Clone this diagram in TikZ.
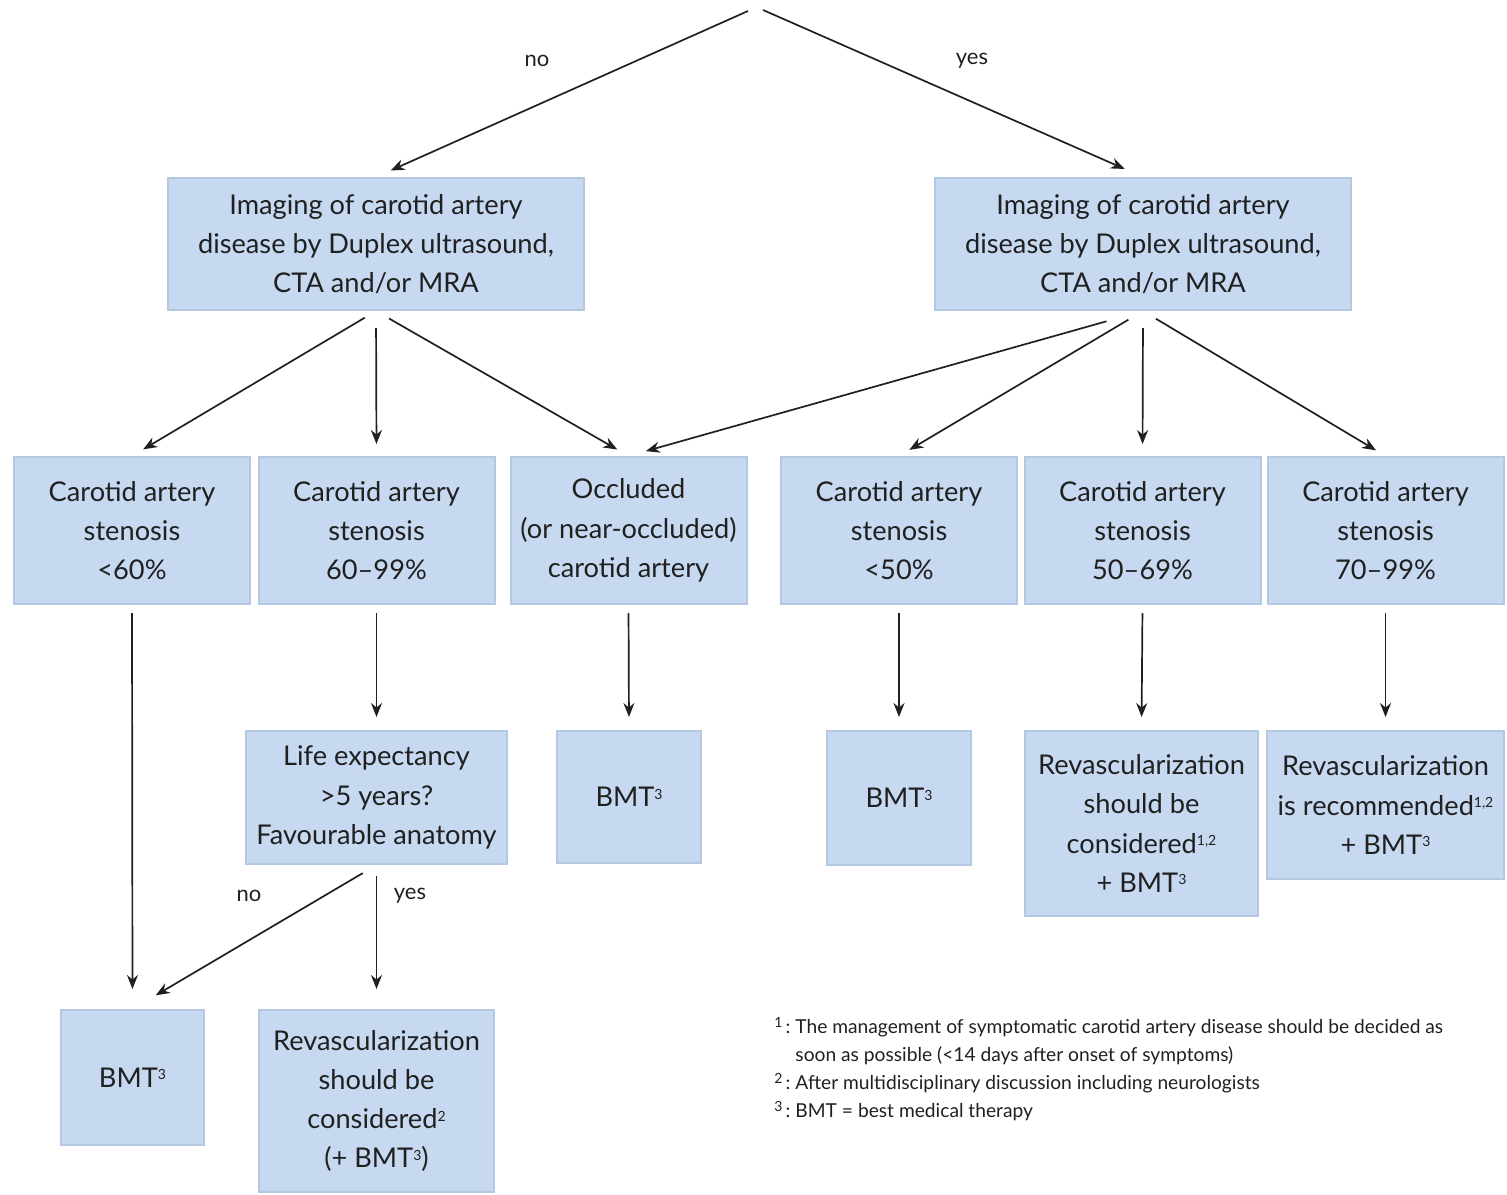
\documentclass[tikz,border=0pt]{standalone}
\usepackage{fontspec}
\setmainfont{Lato}
\usepackage{xcolor}
\usepackage{tikz}
\usetikzlibrary{arrows.meta,positioning}
\definecolor{boxfill}{RGB}{198,217,240}
\definecolor{boxline}{RGB}{180,200,226}
\definecolor{ink}{RGB}{32,32,32}
\newcommand{\fn}[1]{\raisebox{0.55ex}{\scriptsize #1}}

\begin{document}
\begin{tikzpicture}[
      x=0.5pt, y=-0.5pt,
      box/.style={draw=boxline, line width=1pt, fill=boxfill, align=center,
        inner sep=0pt, text=ink, font=\fontsize{13.6}{19.6}\selectfont},
      arr/.style={draw=ink, line width=0.85pt, -{Stealth[length=7pt,width=5.5pt]},
        shorten <=7.5pt, shorten >=6.5pt},
      lbl/.style={text=ink, font=\fontsize{11}{13}\selectfont},
      >=Stealth]
    \useasboundingbox (0,0) rectangle (1507,1194);
    % top split
    \coordinate (rootL) at (748,11);
    \coordinate (rootR) at (763,10);
    \node[box, minimum width=208pt, minimum height=66pt] (imgL) at (376,244)
      {Imaging of carotid artery\\disease by Duplex ultrasound,\\CTA and/or MRA};
    \node[box, minimum width=208pt, minimum height=66pt] (imgR) at (1143,244)
      {Imaging of carotid artery\\disease by Duplex ultrasound,\\CTA and/or MRA};
    \draw[arr, shorten <=0pt, shorten >=8pt] (rootL) -- (imgL.north);
    \draw[arr, shorten <=0pt, shorten >=10pt] (rootR) -- (imgR.north);
    \node[lbl] (noTop) at (537,61) {no};
    \node[lbl] (yesTop) at (972,61) {yes};
    % stenosis grades
    \foreach \n/\x/\t in {sA/132/{Carotid artery\\stenosis\\<60\%},
                          sB/376.5/{Carotid artery\\stenosis\\60--99\%},
                          sC/628.5/{Occluded\\(or near-occluded)\\carotid artery},
                          sD/899/{Carotid artery\\stenosis\\<50\%},
                          sE/1142.5/{Carotid artery\\stenosis\\50--69\%},
                          sF/1385.5/{Carotid artery\\stenosis\\70--99\%}}
      \node[box, minimum width=118pt, minimum height=73.5pt] (\n) at (\x,530.5) {\t};
    \draw[arr, shorten <=6.5pt] (imgL.south) -- (sA.north);
    \draw[arr, shorten <=8.5pt, shorten >=6pt] (imgL.south) -- (sB.north);
    \draw[arr] (imgL.south) -- (sC.north);
    \draw[arr, shorten <=19pt, shorten >=9pt] (imgR.south) -- (sC.north);
    \draw[arr, shorten <=8.5pt, shorten >=6pt] (imgR.south) -- (sD.north);
    \draw[arr, shorten <=8.5pt, shorten >=6pt] (imgR.south) -- (sE.north);
    \draw[arr, shorten >=5.5pt] (imgR.south) -- (sF.north);
    % outcomes
    \node[box, minimum width=130.5pt, minimum height=66.5pt] (life) at (376.5,797.5)
      {Life expectancy\\>5 years?\\Favourable anatomy};
    \node[box, minimum width=72pt, minimum height=66pt] (bmtC) at (629,797)
      {BMT\fn{3}};
    \node[box, minimum width=72pt, minimum height=67pt] (bmtD) at (899,798)
      {BMT\fn{3}};
    \node[box, minimum width=116.5pt, minimum height=92.5pt] (revE) at (1141.5,823.5)
      {Revascularization\\should be\\considered\fn{1,2}\\+ BMT\fn{3}};
    \node[box, minimum width=118.5pt, minimum height=74pt] (revF) at (1385.5,805)
      {Revascularization\\is recommended\fn{1,2}\\+ BMT\fn{3}};
    \node[box, minimum width=71.5pt, minimum height=67.5pt] (bmtA) at (132.5,1077.5)
      {BMT\fn{3}};
    \node[box, minimum width=117.5pt, minimum height=91pt] (revB) at (376.5,1101)
      {Revascularization\\should be\\considered\fn{2}\\(+ BMT\fn{3})};
    \draw[arr, shorten <=4pt, shorten >=10pt] (sA.south) -- (bmtA.north);
    \draw[arr, shorten <=4pt] (sB.south) -- (life.north);
    \draw[arr, shorten <=4pt] (sC.south) -- (bmtC.north);
    \draw[arr, shorten <=4pt] (sD.south) -- (bmtD.north);
    \draw[arr, shorten <=4pt] (sE.south) -- (revE.north);
    \draw[arr, shorten <=4pt] (sF.south) -- (revF.north);
    \draw[arr, shorten <=8pt, shorten >=13.5pt] (life.south) -- (bmtA.north);
    \draw[arr, shorten <=5.5pt, shorten >=10pt] (life.south) -- (revB.north);
    \node[lbl] (noLife) at (249,896) {no};
    \node[lbl] (yesLife) at (410,896) {yes};
    % footnotes
    \node[anchor=north west, inner sep=0pt, text=ink, align=left,
          font=\fontsize{9.6}{14}\selectfont] (notes) at (774,1013) {%
      \begin{tabular}{@{}r@{\,}l@{\ }l@{}}
        \fn{1} & : & The management of symptomatic carotid artery disease should be decided as\\
               &   & soon as possible (<14 days after onset of symptoms)\\
        \fn{2} & : & After multidisciplinary discussion including neurologists\\
        \fn{3} & : & BMT = best medical therapy
      \end{tabular}};
  \end{tikzpicture}
\end{document}
